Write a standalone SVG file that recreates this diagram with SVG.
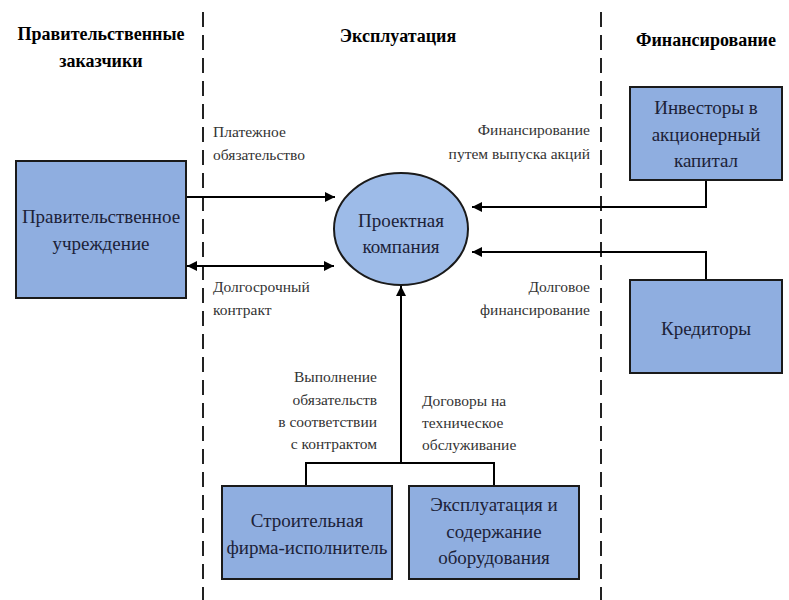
<svg xmlns="http://www.w3.org/2000/svg" width="789" height="600" viewBox="0 0 789 600">
<style>
.box{fill:#8FAEE0;stroke:#1a1a1a;stroke-width:2}
.ell{fill:#9DBBE8;stroke:#1a1a1a;stroke-width:2}
.bt{font-family:'Liberation Serif','Times New Roman',serif;font-size:19px;fill:#1c2238;text-anchor:middle}
.hd{font-family:'Liberation Serif','Times New Roman',serif;font-size:18px;font-weight:bold;fill:#000;text-anchor:middle}
.lb{font-family:'Liberation Serif','Times New Roman',serif;font-size:15.5px;fill:#333}
.ln{fill:none;stroke:#000;stroke-width:2}
.dash{stroke:#222;stroke-width:2;stroke-dasharray:15 8}
</style>
<defs>
<marker id="ah" viewBox="0 0 10 10" refX="10" refY="5" markerWidth="10" markerHeight="10" markerUnits="userSpaceOnUse" orient="auto-start-reverse">
<path d="M0,0 L10,5 L0,10 Z" fill="#000"/>
</marker>
</defs>
<rect width="789" height="600" fill="#fff"/>
<g id="dividers">
<line class="dash" x1="203" y1="12" x2="203" y2="600"/>
<line class="dash" x1="601" y1="12" x2="601" y2="600"/>
</g>
<g id="headings">
<text class="hd" x="101" y="40">Правительственные</text>
<text class="hd" x="101" y="67">заказчики</text>
<text class="hd" x="398" y="42">Эксплуатация</text>
<text class="hd" x="706" y="46">Финансирование</text>
</g>
<g id="connectors">
<line class="ln" x1="187" y1="197" x2="335" y2="197" marker-end="url(#ah)"/>
<line class="ln" x1="187" y1="266" x2="334" y2="266" marker-start="url(#ah)" marker-end="url(#ah)"/>
<polyline class="ln" points="706,180 706,207 472,207" marker-end="url(#ah)"/>
<polyline class="ln" points="706,280 706,252 472,252" marker-end="url(#ah)"/>
<line class="ln" x1="401" y1="463" x2="401" y2="286" marker-end="url(#ah)"/>
<polyline class="ln" points="306,486 306,463 494,463 494,486"/>
</g>
<g id="labels">
<text class="lb" x="213" y="137">Платежное</text>
<text class="lb" x="213" y="160">обязательство</text>
<text class="lb" x="213" y="292">Долгосрочный</text>
<text class="lb" x="213" y="315">контракт</text>
<text class="lb" x="590" y="135" text-anchor="end">Финансирование</text>
<text class="lb" x="590" y="159" text-anchor="end">путем выпуска акций</text>
<text class="lb" x="590" y="292" text-anchor="end">Долговое</text>
<text class="lb" x="590" y="315" text-anchor="end">финансирование</text>
<text class="lb" x="377" y="382" text-anchor="end">Выполнение</text>
<text class="lb" x="377" y="405" text-anchor="end">обязательств</text>
<text class="lb" x="377" y="427" text-anchor="end">в соответствии</text>
<text class="lb" x="377" y="449" text-anchor="end">с контрактом</text>
<text class="lb" x="422" y="406">Договоры на</text>
<text class="lb" x="422" y="428">техническое</text>
<text class="lb" x="422" y="450">обслуживание</text>
</g>
<g id="gov">
<rect class="box" x="16" y="161" width="170" height="137"/>
<text class="bt" x="101" y="223">Правительственное</text>
<text class="bt" x="101" y="250">учреждение</text>
</g>
<g id="project">
<ellipse class="ell" cx="401" cy="229" rx="67" ry="56"/>
<text class="bt" x="401" y="227">Проектная</text>
<text class="bt" x="401" y="253">компания</text>
</g>
<g id="investors">
<rect class="box" x="630" y="87" width="152" height="93"/>
<text class="bt" x="706" y="114">Инвесторы в</text>
<text class="bt" x="706" y="141">акционерный</text>
<text class="bt" x="706" y="167">капитал</text>
</g>
<g id="creditors">
<rect class="box" x="630" y="280" width="152" height="93"/>
<text class="bt" x="706" y="335">Кредиторы</text>
</g>
<g id="builder">
<rect class="box" x="222" y="486" width="170" height="93"/>
<text class="bt" x="307" y="527">Строительная</text>
<text class="bt" x="307" y="554">фирма-исполнитель</text>
</g>
<g id="operator">
<rect class="box" x="409" y="486" width="170" height="93"/>
<text class="bt" x="494" y="511">Эксплуатация и</text>
<text class="bt" x="494" y="538">содержание</text>
<text class="bt" x="494" y="564">оборудования</text>
</g>
</svg>
